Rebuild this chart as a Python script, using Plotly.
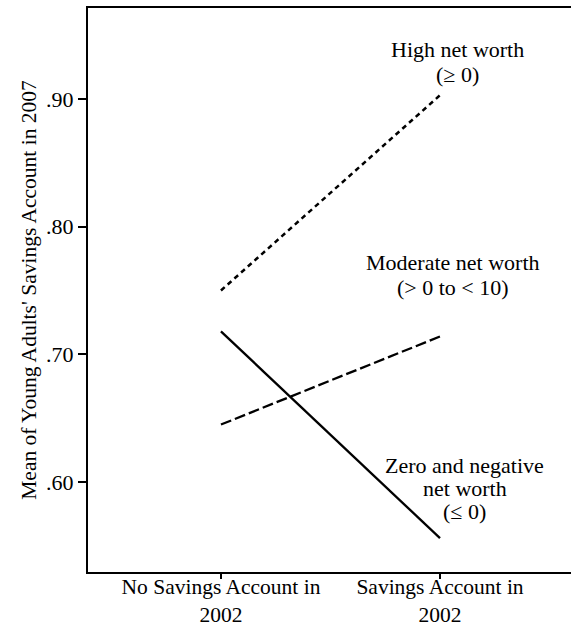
import plotly.graph_objects as go

categories = ["No Savings Account in<br>2002", "Savings Account in<br>2002"]
x_pos = [0, 1]
high_net_worth = [0.750, 0.903]
moderate_net_worth = [0.645, 0.714]
zero_negative_net_worth = [0.718, 0.556]
y_ticks = [0.60, 0.70, 0.80, 0.90]
y_tick_text = [".60", ".70", ".80", ".90"]

FONT = "Liberation Serif, Times New Roman, serif"

fig = go.Figure()
fig.add_trace(go.Scatter(x=x_pos, y=high_net_worth, mode="lines",
                         line=dict(color="black", width=2.5, dash="5px,4px"),
                         name="High net worth"))
fig.add_trace(go.Scatter(x=x_pos, y=moderate_net_worth, mode="lines",
                         line=dict(color="black", width=2.3, dash="11px,4px"),
                         name="Moderate net worth"))
fig.add_trace(go.Scatter(x=x_pos, y=zero_negative_net_worth, mode="lines",
                         line=dict(color="black", width=2.3),
                         name="Zero and negative net worth"))

labels = [
    (1.082, 0.939, "High net worth"),
    (1.082, 0.919, "(≥ 0)"),
    (1.059, 0.772, "Moderate net worth"),
    (1.059, 0.752, "(> 0 to < 10)"),
    (1.114, 0.613, "Zero and negative"),
    (1.114, 0.595, "net worth"),
    (1.114, 0.577, "(≤ 0)"),
]
for lx, ly, t in labels:
    fig.add_annotation(x=lx, y=ly, text=t, showarrow=False,
                       xanchor="center", yanchor="middle",
                       font=dict(family=FONT, size=22, color="#000"))

fig.update_layout(
    width=571, height=627,
    margin=dict(l=88, r=0, t=8, b=55, autoexpand=False),
    paper_bgcolor="white", plot_bgcolor="white",
    showlegend=False,
    font=dict(family=FONT, color="#000"),
)
fig.update_xaxes(
    range=[-0.607, 1.598], tickvals=x_pos, ticktext=categories,
    showgrid=False, zeroline=False, automargin=False,
    showline=True, linecolor="black", linewidth=2, mirror=True,
    ticks="outside", ticklen=5, tickwidth=2, tickcolor="black",
    ticklabelstandoff=-11,
    tickfont=dict(family=FONT, size=21.5, color="#000"),
)
fig.update_yaxes(
    range=[0.5295, 0.9713], tickvals=y_ticks, ticktext=y_tick_text,
    showgrid=False, zeroline=False, automargin=False,
    showline=True, linecolor="black", linewidth=2,
    ticks="outside", ticklen=8, tickwidth=2, tickcolor="black",
    tickfont=dict(family=FONT, size=22, color="#000"),
    title=dict(text="Mean of Young Adults' Savings Account in 2007",
               font=dict(family=FONT, size=21.5, color="#000"), standoff=4),
)

fig.write_html("out.html", config={"displayModeBar": False},
               post_script="document.body.style.margin='0';")
